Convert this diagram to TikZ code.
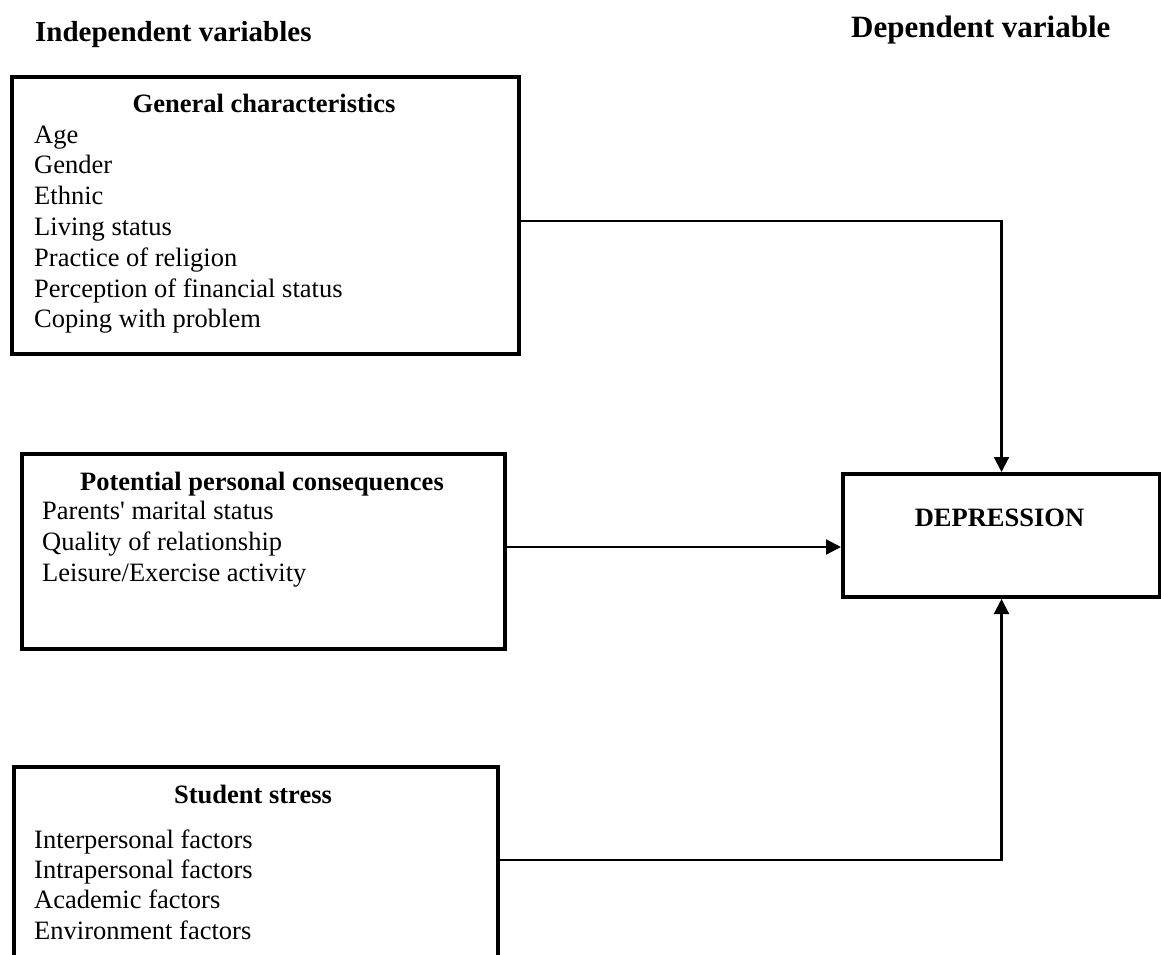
\documentclass[tikz,border=0pt]{standalone}
\usepackage{fontspec}
\setmainfont{Liberation Serif}
\usetikzlibrary{arrows.meta}
\begin{document}
\begin{tikzpicture}[x=1pt,y=-1pt,
  box/.style={draw, line width=4pt, inner sep=0pt, anchor=north west},
  conn/.style={line width=2.2pt, -{Triangle[length=15pt,width=15pt]}},
  item/.style={anchor=base west, inner sep=0pt, font=\fontsize{26.5}{30}\selectfont},
  ttl/.style={anchor=base, inner sep=0pt, font=\bfseries\fontsize{26.5}{30}\selectfont},
  head/.style={anchor=base west, inner sep=0pt, font=\bfseries\fontsize{30}{34}\selectfont}]
\useasboundingbox (0,0) rectangle (1161,955);
\clip (0,0) rectangle (1161,955);
\fill[white] (0,0) rectangle (1161,955);

% headings
\node[head, font=\bfseries\fontsize{29}{33}\selectfont] (hind) at (35,42) {Independent variables};
\node[head, font=\bfseries\fontsize{31}{35}\selectfont] (hdep) at (851,38) {Dependent variable};

% boxes
\node[box, minimum width=507pt, minimum height=277pt] (gc) at (10,75) {};
\node[box, minimum width=483pt, minimum height=195pt] (pc) at (20,452) {};
\node[box, minimum width=484pt, minimum height=240pt] (ss) at (12,765) {};
\node[box, minimum width=317pt, minimum height=123pt] (dep) at (841,472) {};

% box 1 text
\node[ttl] (gct) at (264,113) {General characteristics};
\foreach \t [count=\i] in {Age,Gender,Ethnic,Living status,Practice of religion,Perception of financial status,Coping with problem}
  \node[item] (gci\i) at (34,{143+30.8*(\i-1)}) {\t};

% box 2 text
\node[ttl] (pct) at (262,490) {Potential personal consequences};
\node[item] (pci1) at (42,519) {Parents\textquotesingle\ marital status};
\node[item] (pci2) at (42,550) {Quality of relationship};
\node[item] (pci3) at (42,581) {Leisure/Exercise activity};

% box 3 text
\node[ttl] (sst) at (253,803) {Student stress};
\foreach \t [count=\i] in {Interpersonal factors,Intrapersonal factors,Academic factors,Environment factors}
  \node[item] (ssi\i) at (34,{848+30.4*(\i-1)}) {\t};

% dependent
\node[ttl] (dept) at (999.5,526) {DEPRESSION};

% connectors
\draw[conn] (gc.east |- 0,221) -| (dep.north);
\draw[conn] (pc.east |- 0,547) -- (dep.west |- 0,547);
\draw[conn] (ss.east |- 0,860) -| (dep.south);
\end{tikzpicture}
\end{document}
